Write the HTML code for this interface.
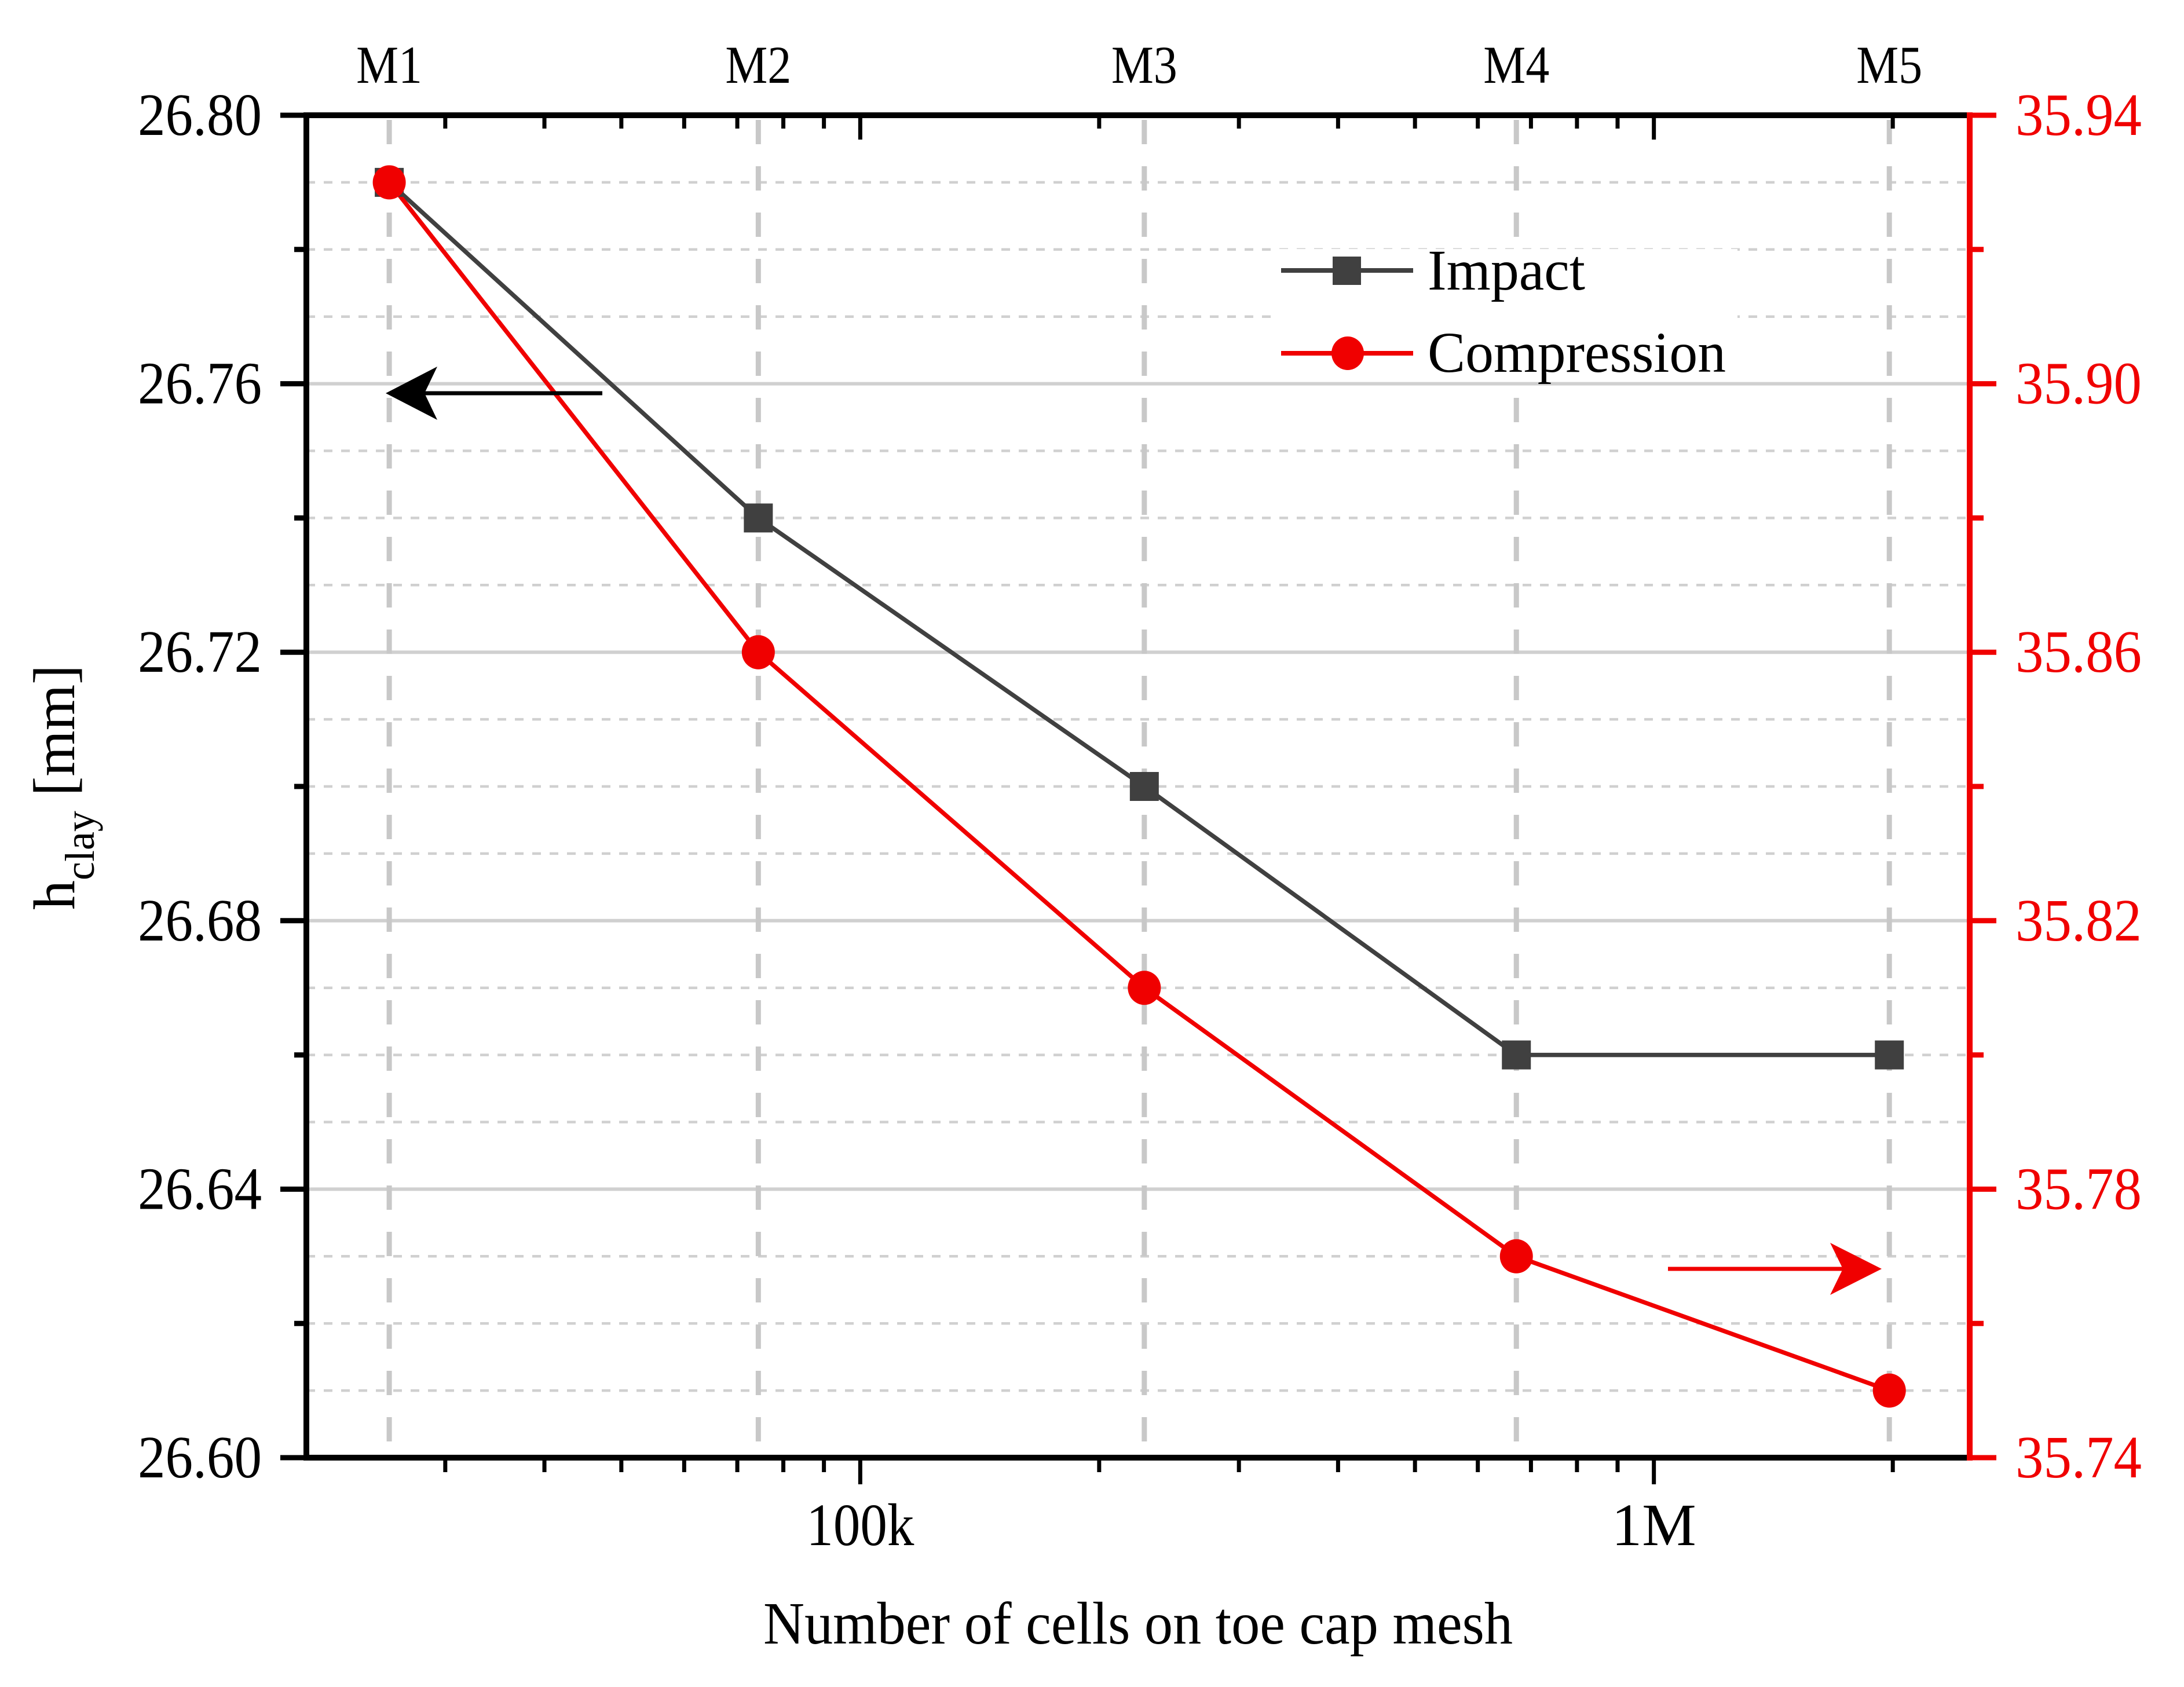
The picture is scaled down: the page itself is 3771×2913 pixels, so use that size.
<!DOCTYPE html>
<html><head><meta charset="utf-8">
<style>
html,body{margin:0;padding:0;background:#fff;}
svg{display:block;font-family:"Liberation Serif","DejaVu Serif",serif;}
</style></head>
<body>
<svg id="chart" width="3771" height="2913" viewBox="0 0 3771 2913" xmlns="http://www.w3.org/2000/svg">
<rect x="0" y="0" width="3771" height="2913" fill="#fff"/>
<g id="grid"></g>
<g id="legendbg"></g>
<g id="series"></g>
<g id="axes"></g>
</svg>
<script>
// ---- data ----
const meshLabels = ["M1","M2","M3","M4","M5"];
const cellCounts = [25500, 74400, 228000, 671000, 1980000];
const impactValues = [26.79, 26.74, 26.70, 26.66, 26.66];
const compressionValues = [35.93, 35.86, 35.81, 35.77, 35.75];
const leftTicks = [26.60, 26.64, 26.68, 26.72, 26.76, 26.80];
const rightTicks = [35.74, 35.78, 35.82, 35.86, 35.90, 35.94];
const xMajorTicks = [100000, 1000000];
const xMajorLabels = ["100k", "1M"];
const xMinorTicks = [30000,40000,50000,60000,70000,80000,90000,200000,300000,400000,500000,600000,700000,800000,900000,2000000];

// ---- layout ----
const L=529, R=3401, T=199, B=2517;
const xMin=20050, xMax=2500000;
const yLmin=26.60, yLmax=26.80, yRmin=35.74, yRmax=35.94;
const NS="http://www.w3.org/2000/svg";
const sx = v => L + (Math.log10(v)-Math.log10(xMin))/(Math.log10(xMax)-Math.log10(xMin))*(R-L);
const syL = v => B - (v-yLmin)/(yLmax-yLmin)*(B-T);
const syR = v => B - (v-yRmin)/(yRmax-yRmin)*(B-T);
function mk(tag, attrs, parent){const e=document.createElementNS(NS,tag);for(const k in attrs)e.setAttribute(k,attrs[k]);parent.appendChild(e);return e;}
const grid=document.getElementById('grid'), series=document.getElementById('series'), axes=document.getElementById('axes'), lbg=document.getElementById('legendbg');

// horizontal grid
for(let i=1;i<20;i++){
  const v=yLmin+i*0.01, y=syL(v);
  const major=(i%4===0);
  const g=mk('line',{x1:L,x2:R,y1:y,y2:y,stroke:'#d0d0d0','stroke-width':major?6:4.5,'stroke-dasharray':major?'none':'15 15'},grid);
  
  
}
// vertical mesh lines
cellCounts.forEach((c,i)=>{
  const x=sx(c);
  const g=mk('line',{x1:x,x2:x,y1:T+8,y2:B,stroke:'#c8c8c8','stroke-width':9,'stroke-dasharray':'42 38'},grid);
  
  
  const t=mk('text',{x:x,y:143,'font-size':92,'text-anchor':'middle',fill:'#000',textLength:114,lengthAdjust:'spacingAndGlyphs'},axes);
  t.textContent=meshLabels[i];
  
  
});

// legend background
const lb=mk('rect',{x:2200,y:430,width:800,height:228,fill:'#fff'},lbg);



// series
function poly(vals, sy, color, name){
  const pts=vals.map((v,i)=>sx(cellCounts[i])+','+sy(v)).join(' ');
  const p=mk('polyline',{points:pts,fill:'none',stroke:color,'stroke-width':7.5,'stroke-linejoin':'round'},series);
  
  
}
poly(impactValues, syL, '#404040', 'impact');
poly(compressionValues, syR, '#f00000', 'compression');
impactValues.forEach((v,i)=>{
  const r=mk('rect',{x:sx(cellCounts[i])-25,y:syL(v)-25,width:50,height:50,fill:'#404040'},series);
  
  
});
compressionValues.forEach((v,i)=>{
  const c=mk('ellipse',{cx:sx(cellCounts[i]),cy:syR(v),rx:28.5,ry:29.5,fill:'#f00000'},series);
  
  
});

// annotation arrows
const a1=mk('line',{x1:1040,x2:720,y1:679,y2:679,stroke:'#000','stroke-width':7},series);


const a1h=mk('path',{d:'M666 679 L755 633 L733 679 L755 725 Z',fill:'#000'},series);


const a2=mk('line',{x1:2880,x2:3200,y1:2191,y2:2191,stroke:'#f00000','stroke-width':7},series);


const a2h=mk('path',{d:'M3249 2191 L3160 2146 L3182 2191 L3160 2236 Z',fill:'#f00000'},series);



// legend entries
const li=mk('line',{x1:2212,x2:2440,y1:467,y2:467,stroke:'#404040','stroke-width':8},series);


const lis=mk('rect',{x:2301,y:443,width:49,height:49,fill:'#404040'},series);


const lt1=mk('text',{x:2465,y:500,'font-size':100,fill:'#000',textLength:272,lengthAdjust:'spacingAndGlyphs'},series);
lt1.textContent='Impact';


const lc=mk('line',{x1:2212,x2:2440,y1:610,y2:610,stroke:'#f00000','stroke-width':8},series);


const lcm=mk('ellipse',{cx:2327,cy:610,rx:28,ry:29,fill:'#f00000'},series);


const lt2=mk('text',{x:2465,y:642,'font-size':100,fill:'#000',textLength:515,lengthAdjust:'spacingAndGlyphs'},series);
lt2.textContent='Compression';



// axes frame
const ab=mk('line',{x1:L-5,x2:R,y1:B,y2:B,stroke:'#000','stroke-width':10},axes);


const at=mk('line',{x1:L-5,x2:R,y1:T,y2:T,stroke:'#000','stroke-width':10},axes);


const al=mk('line',{x1:L,x2:L,y1:T-5,y2:B+5,stroke:'#000','stroke-width':10},axes);


const ar=mk('line',{x1:R,x2:R,y1:T-5,y2:B+5,stroke:'#f00000','stroke-width':10},axes);



// y ticks
for(let i=0;i<=20;i+=2){
  const v=yLmin+i*0.01, y=syL(v);
  const major=(i%4===0);
  const t=mk('line',{x1:major?L-45:L-21,x2:L,y1:y,y2:y,stroke:'#000','stroke-width':9},axes);
  
  
  const t2=mk('line',{x1:R,x2:major?R+46:R+24,y1:y,y2:y,stroke:'#f00000','stroke-width':9},axes);
  
  
}
leftTicks.forEach(v=>{
  const t=mk('text',{x:452,y:syL(v)+34,'font-size':104,'text-anchor':'end',fill:'#000',textLength:214,lengthAdjust:'spacingAndGlyphs'},axes);
  t.textContent=v.toFixed(2);
  
  
});
rightTicks.forEach(v=>{
  const t=mk('text',{x:3480,y:syR(v)+34,'font-size':104,fill:'#f00000',textLength:218,lengthAdjust:'spacingAndGlyphs'},axes);
  t.textContent=v.toFixed(2);
  
  
});

// x ticks
xMinorTicks.forEach(v=>{
  const x=sx(v);
  const b=mk('line',{x1:x,x2:x,y1:B,y2:B+25,stroke:'#000','stroke-width':7},axes);
  
  
  const t=mk('line',{x1:x,x2:x,y1:T,y2:T+23,stroke:'#000','stroke-width':7},axes);
  
  
});
xMajorTicks.forEach((v,i)=>{
  const x=sx(v);
  const b=mk('line',{x1:x,x2:x,y1:B,y2:B+46,stroke:'#000','stroke-width':7},axes);
  
  
  const t=mk('line',{x1:x,x2:x,y1:T,y2:T+42,stroke:'#000','stroke-width':7},axes);
  
  
  const l=mk('text',{x:x,y:2668,'font-size':104,'text-anchor':'middle',fill:'#000',textLength:i===0?186:146,lengthAdjust:'spacingAndGlyphs'},axes);
  l.textContent=xMajorLabels[i];
  
  
});

// titles
const xt=mk('text',{x:1318,y:2838,'font-size':104,fill:'#000',textLength:1294,lengthAdjust:'spacingAndGlyphs'},axes);
xt.textContent='Number of cells on toe cap mesh';


const yt=mk('text',{transform:'translate(128,1571) rotate(-90)','font-size':102,fill:'#000'},axes);


const ts1=mk('tspan',{},yt); ts1.textContent='h';
const ts2=mk('tspan',{dy:34,'font-size':72},yt); ts2.textContent='clay';
const ts3=mk('tspan',{dy:-34},yt); ts3.textContent=' [mm]';
</script>
</body></html>
